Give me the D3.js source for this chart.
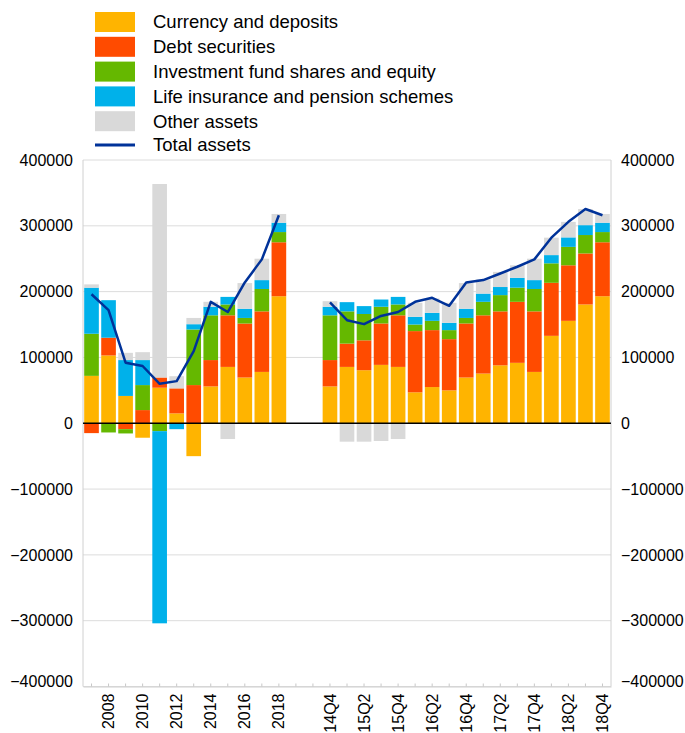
<!DOCTYPE html>
<html>
<head>
<meta charset="utf-8">
<script src="https://cdn.jsdelivr.net/npm/d3@7"></script>
<style>
  html, body { margin: 0; padding: 0; background: #fff; }
  svg { display: block; font-family: "Liberation Sans", Arial, sans-serif; }
</style>
</head>
<body>
<svg id="chart" width="685" height="733"></svg>
<script>
// ---- data (values in the chart's units) ----
const categories = ["2007","2008","2009","2010","2011","2012","2013","2014","2015","2016","2017","2018",
  "gap1","gap2",
  "2014Q4","2015Q1","2015Q2","2015Q3","2015Q4","2016Q1","2016Q2","2016Q3","2016Q4",
  "2017Q1","2017Q2","2017Q3","2017Q4","2018Q1","2018Q2","2018Q3","2018Q4"];

const shownTicks = ["2008","2010","2012","2014","2016","2018",
  "2014Q4","2015Q2","2015Q4","2016Q2","2016Q4","2017Q2","2017Q4","2018Q2","2018Q4"];

const currency = [72000,103000,41500,-22000,54000,15000,-50000,56000,85600,69500,78000,193000,
  null,null,
  56000,85600,80600,88700,85600,47000,55000,50000,69500,75500,88000,91800,78000,132800,155600,180500,193000];
const debt = [-15000,27000,-9000,20000,15500,38000,58000,40000,78400,82000,92000,82000,
  null,null,
  40000,35400,45400,62900,78400,93000,86500,77800,82100,88500,82000,92700,92000,80600,84400,77500,82000];
const investment = [64000,-14000,-6500,38000,-12000,0,84500,68000,16500,8500,34000,15500,
  null,null,
  68000,49000,40000,25400,16500,10000,14100,13700,8400,20500,24700,21500,34000,29600,28000,28000,15500];
const lifeInsurance = [70000,57000,54500,38000,-292000,-9000,8000,13000,11500,14000,13500,14200,
  null,null,
  13000,14000,12000,11000,11500,11700,12200,11100,14000,12500,12300,15000,13500,12500,14400,15000,14200];
const otherAssets = [5000,0,11000,12000,294000,18500,9500,7500,-24000,39000,32500,13300,
  null,null,
  8500,-28000,-28000,-27000,-24000,21300,21800,30400,39000,21500,23000,19000,32500,26500,23600,24500,13300];
const totalAssets = [196000,172000,92000,87000,60000,64000,109500,184500,169000,214000,249000,316000,
  null,null,
  183500,156600,150600,163000,169000,184500,190600,178500,214000,217500,227600,237800,249000,282000,306000,325500,316000];

const seriesNames = ["Currency and deposits","Debt securities","Investment fund shares and equity",
  "Life insurance and pension schemes","Other assets"];
const seriesColors = ["#FFB400","#FF4B00","#65B800","#00B1EA","#D9D9D9"];
const lineName = "Total assets";
const lineColor = "#003299";
const yTicks = [-400000,-300000,-200000,-100000,0,100000,200000,300000,400000];

// ---- build table ----
const seriesArrays = [currency, debt, investment, lifeInsurance, otherAssets];
const rows = categories.map((c, i) => {
  const r = { cat: c, total: totalAssets[i] };
  seriesNames.forEach((n, k) => { r[n] = seriesArrays[k][i] == null ? 0 : seriesArrays[k][i]; });
  return r;
});

// ---- layout ----
const svg = d3.select("#chart");
const plot = { left: 83, right: 611, top: 160, bottom: 686.5 };

const x = d3.scaleBand().domain(categories).range([plot.left, plot.right])
  .paddingInner(0.14).paddingOuter(0.07);
const y = d3.scaleLinear().domain([-400000, 400000]).range([plot.bottom, plot.top]);

// grid
svg.append("g").selectAll("line").data(yTicks.filter(d => d !== 0)).join("line")
  .attr("x1", plot.left).attr("x2", plot.right)
  .attr("y1", d => y(d)).attr("y2", d => y(d))
  .attr("stroke", "#dcdcdc").attr("stroke-width", 1);

// frame sides
svg.append("line").attr("x1", plot.left).attr("x2", plot.left).attr("y1", plot.top).attr("y2", plot.bottom)
  .attr("stroke", "#d0d0d0");
svg.append("line").attr("x1", plot.right).attr("x2", plot.right).attr("y1", plot.top).attr("y2", plot.bottom)
  .attr("stroke", "#d0d0d0");

// stacked bars
const stack = d3.stack().keys(seriesNames).offset(d3.stackOffsetDiverging);
const stacked = stack(rows);
svg.append("g").selectAll("g").data(stacked).join("g")
  .attr("fill", (d, i) => seriesColors[i])
  .selectAll("rect").data(d => d.filter(p => p[1] !== p[0])).join("rect")
  .attr("x", d => x(d.data.cat))
  .attr("width", x.bandwidth())
  .attr("y", d => y(Math.max(d[0], d[1])))
  .attr("height", d => Math.abs(y(d[0]) - y(d[1])));

// zero line
svg.append("line").attr("x1", plot.left).attr("x2", plot.right)
  .attr("y1", y(0)).attr("y2", y(0)).attr("stroke", "#000").attr("stroke-width", 1.5);

// total line (two segments)
const line = d3.line().defined(d => d.total != null)
  .x(d => x(d.cat) + x.bandwidth() / 2).y(d => y(d.total));
svg.append("path").datum(rows).attr("d", line)
  .attr("fill", "none").attr("stroke", lineColor).attr("stroke-width", 2.5)
  .attr("stroke-linejoin", "round");

// left/right y axes
const yAxisL = d3.axisLeft(y).tickValues(yTicks).tickSize(0).tickPadding(10).tickFormat(d3.format("d"));
const gL = svg.append("g").attr("transform", `translate(${plot.left},0)`).call(yAxisL);
const yAxisR = d3.axisRight(y).tickValues(yTicks).tickSize(0).tickPadding(10).tickFormat(d3.format("d"));
const gR = svg.append("g").attr("transform", `translate(${plot.right},0)`).call(yAxisR);
[gL, gR].forEach(g => {
  g.select(".domain").remove();
  g.selectAll("text").attr("font-size", 16).attr("fill", "#000")
    .attr("font-family", "'Liberation Sans', Arial, sans-serif")
    .attr("dy", d => d === -400000 ? "0.0em" : "0.32em");
});

// x axis
const xAxis = d3.axisBottom(x).tickSizeInner(-3).tickSizeOuter(0).tickPadding(8)
  .tickFormat(d => shownTicks.includes(d) ? d : "");
const gX = svg.append("g").attr("transform", `translate(0,${plot.bottom})`).call(xAxis);
gX.select(".domain").attr("stroke", "#d0d0d0");
gX.selectAll(".tick line").attr("stroke", "#c8c8c8");
gX.selectAll(".tick text")
  .attr("font-size", 16).attr("fill", "#000")
  .attr("font-family", "'Liberation Sans', Arial, sans-serif")
  .attr("transform", "rotate(-90)")
  .attr("text-anchor", "end")
  .attr("x", -7).attr("y", 0).attr("dy", "0.35em");

// legend
const legend = svg.append("g");
const legY0 = 12, legStep = 24.8;
seriesNames.forEach((n, i) => {
  legend.append("rect").attr("x", 95).attr("y", legY0 + i * legStep).attr("width", 40).attr("height", 20)
    .attr("fill", seriesColors[i]);
  legend.append("text").attr("x", 153).attr("y", legY0 + i * legStep + 10).attr("dy", "0.35em")
    .attr("font-size", 18.5).attr("fill", "#000").text(n);
});
legend.append("line").attr("x1", 95).attr("x2", 135)
  .attr("y1", 145).attr("y2", 145).attr("stroke", lineColor).attr("stroke-width", 3);
legend.append("text").attr("x", 153).attr("y", 145).attr("dy", "0.35em")
  .attr("font-size", 18.5).attr("fill", "#000").text(lineName);
</script>
</body>
</html>
